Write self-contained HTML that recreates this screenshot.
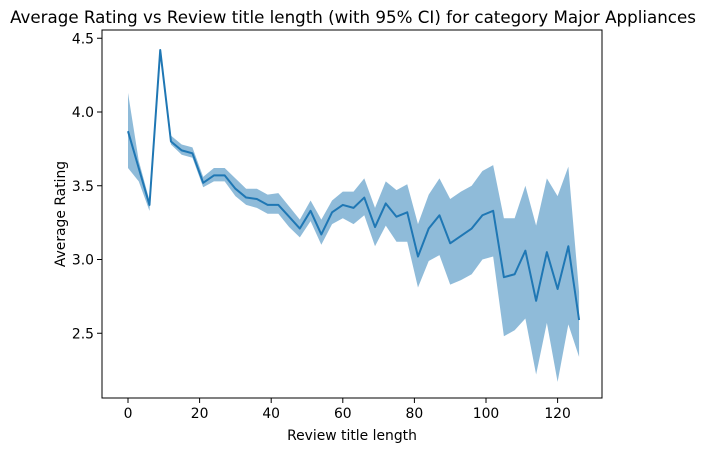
<!DOCTYPE html>
<html><head><meta charset="utf-8"><style>
body{margin:0;background:#fff;}
svg text{font-family:"DejaVu Sans","Liberation Sans",sans-serif;fill:#000;}
</style></head><body>
<svg id="chart" width="707" height="453" xmlns="http://www.w3.org/2000/svg">
<text x="353" y="23" font-size="16.7" text-anchor="middle">Average Rating vs Review title length (with 95% CI) for category Major Appliances</text>
<g id="plot"></g>
<rect x="102" y="30" width="500" height="368" fill="none" stroke="#000" stroke-width="1"/>
<text x="352" y="440" font-size="13.9" text-anchor="middle">Review title length</text>
<text transform="translate(65,214) rotate(-90)" font-size="13.9" text-anchor="middle">Average Rating</text>
</svg>
<script>
const xs=[0,3,6,9,12,15,18,21,24,27,30,33,36,39,42,45,48,51,54,57,60,63,66,69,72,75,78,81,84,87,90,93,96,99,102,105,108,111,114,117,120,123,126];
const meanVals=[3.87,3.62,3.37,4.42,3.80,3.74,3.72,3.52,3.57,3.57,3.48,3.42,3.41,3.37,3.37,3.29,3.21,3.33,3.17,3.32,3.37,3.35,3.42,3.22,3.38,3.29,3.32,3.02,3.21,3.30,3.11,3.16,3.21,3.30,3.33,2.88,2.90,3.06,2.72,3.05,2.80,3.09,2.59];
const upperVals=[4.13,3.67,3.40,4.42,3.84,3.78,3.76,3.56,3.62,3.62,3.55,3.48,3.48,3.44,3.45,3.36,3.27,3.40,3.27,3.40,3.46,3.46,3.55,3.35,3.53,3.47,3.51,3.24,3.44,3.55,3.41,3.46,3.50,3.60,3.64,3.28,3.28,3.50,3.23,3.55,3.43,3.63,2.78];
const lowerVals=[3.62,3.53,3.33,4.40,3.78,3.71,3.69,3.49,3.53,3.53,3.43,3.37,3.35,3.31,3.31,3.22,3.15,3.26,3.10,3.24,3.28,3.24,3.30,3.09,3.23,3.12,3.12,2.81,2.99,3.03,2.83,2.86,2.90,3.00,3.02,2.48,2.52,2.60,2.22,2.57,2.17,2.56,2.34];
const xTicks=[0,20,40,60,80,100,120];
const yTicks=[2.5,3.0,3.5,4.0,4.5];
const ns="http://www.w3.org/2000/svg";
function sx(v){return 128+v*3.58;}
function sy(v){return 112-(v-4)*147.5;}
const g=document.getElementById('plot');
function mk(t,a){const e=document.createElementNS(ns,t);for(const k in a)e.setAttribute(k,a[k]);g.appendChild(e);return e;}
let d='M'+xs.map((x,i)=>sx(x)+','+sy(upperVals[i])).join('L');
for(let i=xs.length-1;i>=0;i--)d+='L'+sx(xs[i])+','+sy(lowerVals[i]);
const band=mk('path',{d:d+'Z',fill:'#1f77b4','fill-opacity':'0.5'});


const line=mk('polyline',{points:xs.map((x,i)=>sx(x)+','+sy(meanVals[i])).join(' '),fill:'none',stroke:'#1f77b4','stroke-width':'2','stroke-linejoin':'round'});


xTicks.forEach(v=>{
  const t=mk('line',{x1:sx(v),x2:sx(v),y1:398,y2:403,stroke:'#000'});
  
  
  const l=mk('text',{x:sx(v),y:418,'font-size':'13.9','text-anchor':'middle'});l.textContent=v;
  
  
});
yTicks.forEach(v=>{
  const t=mk('line',{x1:97,x2:102,y1:sy(v),y2:sy(v),stroke:'#000'});
  
  
  const l=mk('text',{x:94,y:sy(v)+5,'font-size':'13.9','text-anchor':'end'});l.textContent=v.toFixed(1);
  
  
});
</script>
</body></html>
